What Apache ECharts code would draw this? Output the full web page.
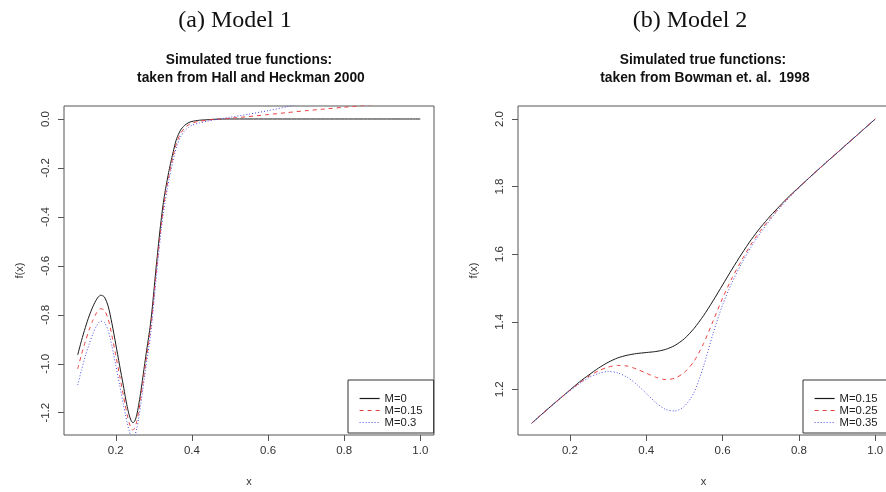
<!DOCTYPE html>
<html>
<head>
<meta charset="utf-8">
<script src="https://cdn.jsdelivr.net/npm/echarts@6/dist/echarts.min.js"></script>
<style>
html,body{margin:0;padding:0;background:#fff;}
#chart{width:886px;height:492px;}
</style>
</head>
<body>
<div id="chart"></div>
<script>
// ---- Panel (a): Hall and Heckman 2000 ----
const leftX = [0.10,0.11,0.12,0.13,0.14,0.15,0.16,0.17,0.18,0.19,0.20,0.21,0.22,
  0.225,0.23,0.235,0.24,0.245,0.25,0.255,0.26,0.265,0.27,0.275,0.28,0.285,0.29,0.295,0.30,
  0.305,0.31,0.315,0.32,0.325,0.33,0.335,0.34,0.345,0.35,0.355,0.36,
  0.37,0.38,0.39,0.40,0.42,0.44,0.46,0.50,0.55,0.60,0.65,0.70,0.75,0.80,0.85,0.90,0.95,1.00];
const leftM0 = [-0.964,-0.905,-0.852,-0.805,-0.766,-0.736,-0.720,-0.727,-0.765,-0.836,-0.920,-1.006,-1.090,
  -1.135,-1.175,-1.208,-1.231,-1.241,-1.234,-1.210,-1.170,-1.122,-1.068,-1.012,-0.957,-0.905,-0.852,-0.785,-0.705,
  -0.622,-0.545,-0.470,-0.402,-0.342,-0.293,-0.250,-0.210,-0.174,-0.140,-0.107,-0.080,
  -0.046,-0.027,-0.016,-0.010,-0.005,-0.003,-0.001,0,0,0,0,0,0,0,0,0,0,0];
const leftM015 = [-1.021,-0.962,-0.909,-0.862,-0.822,-0.791,-0.775,-0.781,-0.817,-0.885,-0.965,-1.047,-1.130,
  -1.170,-1.208,-1.240,-1.262,-1.271,-1.262,-1.237,-1.196,-1.147,-1.092,-1.036,-0.981,-0.929,-0.876,-0.810,-0.730,
  -0.647,-0.570,-0.494,-0.425,-0.364,-0.314,-0.270,-0.229,-0.192,-0.157,-0.124,-0.096,
  -0.060,-0.038,-0.025,-0.017,-0.009,-0.005,-0.001,0.003,0.010,0.018,0.026,0.034,0.041,0.048,0.055,0.061,0.067,0.073];
const leftM03 = [-1.087,-1.025,-0.969,-0.920,-0.877,-0.844,-0.826,-0.831,-0.864,-0.928,-1.006,-1.086,-1.166,
  -1.205,-1.242,-1.273,-1.295,-1.303,-1.293,-1.266,-1.224,-1.174,-1.118,-1.061,-1.005,-0.952,-0.898,-0.832,-0.752,
  -0.669,-0.592,-0.516,-0.447,-0.386,-0.334,-0.289,-0.247,-0.209,-0.173,-0.140,-0.112,
  -0.074,-0.050,-0.035,-0.026,-0.016,-0.009,-0.003,0.007,0.020,0.034,0.050,0.066,0.083,0.100,0.117,0.134,0.151,0.168];
const leftNames = ['M=0','M=0.15','M=0.3'];

// ---- Panel (b): Bowman et al. 1998 ----
const rightX = [0.100,0.125,0.150,0.175,0.200,0.225,0.250,0.275,0.300,0.325,0.350,0.375,0.400,0.425,0.450,0.475,
  0.500,0.525,0.550,0.575,0.600,0.625,0.650,0.675,0.700,0.725,0.750,0.775,0.800,0.825,0.850,0.875,0.900,0.925,0.950,0.975,1.000];
const rightM015 = [1.100,1.125,1.150,1.174,1.198,1.222,1.243,1.263,1.280,1.293,1.301,1.306,1.309,1.312,1.318,1.330,
  1.350,1.380,1.418,1.462,1.509,1.556,1.601,1.643,1.680,1.713,1.743,1.772,1.798,1.824,1.850,1.875,1.900,1.925,1.950,1.975,2.000];
const rightM025 = [1.100,1.125,1.150,1.174,1.197,1.219,1.239,1.255,1.266,1.271,1.269,1.260,1.248,1.236,1.229,1.233,
  1.250,1.283,1.335,1.402,1.470,1.530,1.582,1.630,1.671,1.706,1.740,1.770,1.797,1.824,1.850,1.875,1.900,1.925,1.950,1.975,2.000];
const rightM035 = [1.100,1.125,1.149,1.173,1.196,1.217,1.235,1.247,1.253,1.249,1.236,1.215,1.188,1.161,1.141,1.136,
  1.150,1.190,1.268,1.365,1.450,1.517,1.573,1.622,1.664,1.702,1.737,1.768,1.797,1.824,1.849,1.875,1.900,1.925,1.950,1.975,2.000];
const rightNames = ['M=0.15 ','M=0.25','M=0.35'];

// ---- ticks ----
const xTicks = [0.2,0.4,0.6,0.8,1.0];
const leftYTicks = [-1.2,-1.0,-0.8,-0.6,-0.4,-0.2,0.0];
const rightYTicks = [1.2,1.4,1.6,1.8,2.0];

const zip = (xs, ys) => xs.map((x, i) => [x, ys[i]]);
const FONT = '"Liberation Sans", Arial, sans-serif';
const colors = ['#1a1a1a', '#e8403f', '#4a4ae8'];
const dashes = ['solid', [4, 4], [1, 2]];

function xAxisCfg(gi) {
  return {
    gridIndex: gi, type: 'value', min: 0.064, max: 1.036,
    axisLine: {show: false, onZero: false}, splitLine: {show: false},
    axisTick: {show: true, customValues: xTicks, length: 6, lineStyle: {color: '#555'}},
    axisLabel: {customValues: xTicks, formatter: v => v.toFixed(1), color: '#333', fontSize: 11.5, fontFamily: FONT, margin: 10},
    name: 'x', nameLocation: 'middle', nameGap: 41,
    nameTextStyle: {fontSize: 11, color: '#333', fontFamily: FONT}
  };
}
function yAxisCfg(gi, min, max, ticks) {
  return {
    gridIndex: gi, type: 'value', min: min, max: max,
    axisLine: {show: false, onZero: false}, splitLine: {show: false},
    axisTick: {show: true, customValues: ticks, length: 6, lineStyle: {color: '#555'}},
    axisLabel: {customValues: ticks, formatter: v => v.toFixed(1), rotate: 90, color: '#333', fontSize: 11.5, fontFamily: FONT, margin: 12},
    name: 'f(x)', nameLocation: 'middle', nameGap: 39, nameRotate: 90,
    nameTextStyle: {fontSize: 11, color: '#333', fontFamily: FONT}
  };
}
function lineSeries(name, gi, xs, ys, k) {
  return {
    type: 'line', name: name, xAxisIndex: gi, yAxisIndex: gi,
    data: zip(xs, ys), symbol: 'none', smooth: 0.25, clip: true,
    color: colors[k],
    lineStyle: {color: colors[k], width: 1, type: dashes[k]},
    emphasis: {disabled: true}
  };
}
function legendCfg(names, left, padRight) {
  return {
    data: names.map((n, k) => ({
      name: n,
      itemStyle: {opacity: 0, color: 'transparent', borderWidth: 0},
      lineStyle: {color: colors[k], width: 1.2, type: dashes[k], opacity: 1}
    })),
    orient: 'vertical', left: left, top: 380,
    itemWidth: 20, itemHeight: 11, itemGap: 1,
    padding: [13, padRight, 5, 11],
    borderColor: '#333', borderWidth: 1, borderRadius: 0, backgroundColor: '#fff',
    selectedMode: false,
    textStyle: {fontSize: 11.3, color: '#222', fontFamily: FONT}
  };
}

const chart = echarts.init(document.getElementById('chart'), null, {renderer: 'canvas'});
chart.setOption({
  animation: false,
  backgroundColor: '#fff',
  grid: [
    {left: 64, top: 106, width: 370, height: 329, show: true, borderColor: '#555', borderWidth: 1, outerBoundsMode: 'none'},
    {left: 518, top: 106, width: 371, height: 329, show: true, borderColor: '#555', borderWidth: 1, outerBoundsMode: 'none'}
  ],
  xAxis: [xAxisCfg(0), xAxisCfg(1)],
  yAxis: [yAxisCfg(0, -1.2911, 0.0531, leftYTicks), yAxisCfg(1, 1.065, 2.0385, rightYTicks)],
  legend: [legendCfg(leftNames, 348, 11), legendCfg(rightNames, 803, 60)],
  series: [
    lineSeries(leftNames[0], 0, leftX, leftM0, 0),
    lineSeries(leftNames[1], 0, leftX, leftM015, 1),
    lineSeries(leftNames[2], 0, leftX, leftM03, 2),
    lineSeries(rightNames[0], 1, rightX, rightM015, 0),
    lineSeries(rightNames[1], 1, rightX, rightM025, 1),
    lineSeries(rightNames[2], 1, rightX, rightM035, 2)
  ],
  graphic: [
    {type: 'text', x: 235, y: 21, style: {text: '(a) Model 1', font: '24px "Liberation Serif", serif', fill: '#111', align: 'center', verticalAlign: 'middle'}},
    {type: 'text', x: 690, y: 21, style: {text: '(b) Model 2', font: '24px "Liberation Serif", serif', fill: '#111', align: 'center', verticalAlign: 'middle'}},
    {type: 'text', x: 249, y: 69, style: {text: 'Simulated true functions:\n taken from Hall and Heckman 2000', font: 'bold 13.8px ' + FONT, lineHeight: 18, fill: '#111', align: 'center', verticalAlign: 'middle'}},
    {type: 'text', x: 703, y: 69, style: {text: 'Simulated true functions:\n taken from Bowman et. al.  1998', font: 'bold 13.8px ' + FONT, lineHeight: 18, fill: '#111', align: 'center', verticalAlign: 'middle'}}
  ]
});
</script>
</body>
</html>
